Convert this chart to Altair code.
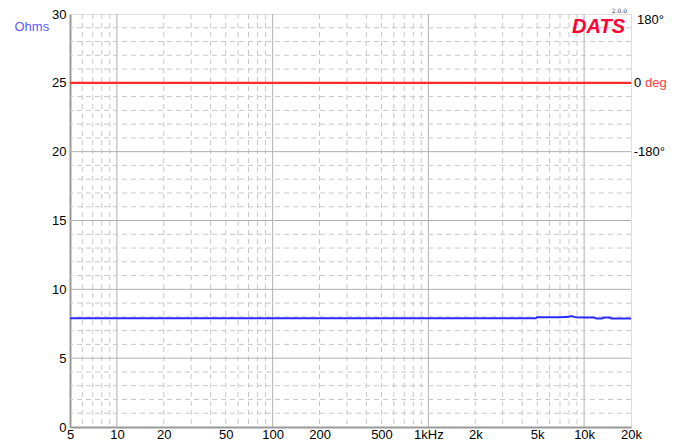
import altair as alt
import pandas as pd

# ---- data ----
imp_freq = [5, 20, 100, 500, 1000, 2000, 4900, 5000, 7000, 8000, 8300, 8600, 8900, 10000, 11500, 12000, 13000, 13400, 14500, 15000, 17000, 20000]
imp_ohms = [7.9, 7.9, 7.9, 7.9, 7.9, 7.9, 7.9, 7.97, 7.98, 8.0, 8.06, 8.0, 7.97, 7.96, 7.96, 7.88, 7.88, 7.95, 7.95, 7.88, 7.88, 7.88]
phase_freq = [5, 20000]
phase_deg = [0, 0]

x_ticks = [5, 10, 20, 50, 100, 200, 500, 1000, 2000, 5000, 10000, 20000]
x_major_grid = [10, 100, 1000, 10000]
x_minor_grid = [6, 7, 8, 9, 20, 30, 40, 50, 60, 70, 80, 90,
                200, 300, 400, 500, 600, 700, 800, 900,
                2000, 3000, 4000, 5000, 6000, 7000, 8000, 9000]
y_ticks = [0, 5, 10, 15, 20, 25, 30]
y_major_grid = [5, 10, 15, 20, 25]
y_minor_grid = [v for v in range(1, 30) if v % 5 != 0]
phase_labels = [180, 0, -180]
phase_text = ["180°", "0", "-180°"]

W, H = 561, 413
FONT = "Liberation Sans"

xscale = alt.Scale(type="log", domain=[5, 20000], nice=False)
yscale = alt.Scale(domain=[0, 30], nice=False)
pscale = alt.Scale(domain=[-900, 180], nice=False)

label_expr = ("datum.value == 1000 ? '1kHz' : datum.value == 2000 ? '2k' : "
              "datum.value == 5000 ? '5k' : datum.value == 10000 ? '10k' : "
              "datum.value == 20000 ? '20k' : datum.label")

xaxis = alt.Axis(values=x_ticks, labelExpr=label_expr, grid=False, ticks=False,
                 title=None, labelFont=FONT, labelFontSize=13, labelColor="#000",
                 labelPadding=1, domainColor="#999", domainWidth=2, labelFlush=False)
yaxis = alt.Axis(values=y_ticks, grid=False, ticks=False, title="Ohms",
                 titleAngle=0, titleX=-56, titleY=6, titleAlign="left",
                 titleBaseline="top",
                 titleColor="#5a5aff", titleFont=FONT, titleFontSize=13,
                 titleFontWeight="normal",
                 labelFont=FONT, labelFontSize=13, labelColor="#000", labelPadding=4,
                 domainColor="#999", domainWidth=2)

minor_v = alt.Chart(pd.DataFrame({"f": x_minor_grid})).mark_rule(
    color="#c8c8c8", strokeDash=[5, 4], strokeWidth=1).encode(
    x=alt.X("f:Q", scale=xscale, axis=xaxis))
major_v = alt.Chart(pd.DataFrame({"f": x_major_grid})).mark_rule(
    color="#b0b0b0", strokeWidth=1).encode(x=alt.X("f:Q", scale=xscale))
minor_h = alt.Chart(pd.DataFrame({"o": y_minor_grid})).mark_rule(
    color="#c8c8c8", strokeDash=[5, 4], strokeWidth=1).encode(
    y=alt.Y("o:Q", scale=yscale, axis=yaxis))
major_h = alt.Chart(pd.DataFrame({"o": y_major_grid})).mark_rule(
    color="#b0b0b0", strokeWidth=1).encode(y=alt.Y("o:Q", scale=yscale))

imp = alt.Chart(pd.DataFrame({"f": imp_freq, "o": imp_ohms})).mark_line(
    color="#2a2aff", strokeWidth=2).encode(
    x=alt.X("f:Q", scale=xscale), y=alt.Y("o:Q", scale=yscale))

ohm_layer = alt.layer(minor_v, major_v, minor_h, major_h, imp)

phase = alt.Chart(pd.DataFrame({"f": phase_freq, "p": phase_deg})).mark_line(
    color="#ff2a2a", strokeWidth=2.2).encode(
    x=alt.X("f:Q", scale=xscale), y=alt.Y("p:Q", scale=pscale, axis=None))

ptext_df = pd.DataFrame({"p": phase_labels, "t": phase_text})
ptext_top = alt.Chart(ptext_df).transform_filter("datum.p == 180").mark_text(
    font=FONT, fontSize=13, align="right", baseline="middle", color="#000", dy=6).encode(
    x=alt.value(W + 33), y=alt.Y("p:Q", scale=pscale, axis=None), text="t:N")
ptext_low = alt.Chart(ptext_df).transform_filter("datum.p == -180").mark_text(
    font=FONT, fontSize=13, align="right", baseline="middle", color="#000").encode(
    x=alt.value(W + 34), y=alt.Y("p:Q", scale=pscale, axis=None), text="t:N")
ptext_zero = alt.Chart(ptext_df).transform_filter("datum.p == 0").mark_text(
    font=FONT, fontSize=13, align="left", baseline="middle", color="#000").encode(
    x=alt.value(W + 3), y=alt.Y("p:Q", scale=pscale, axis=None), text="t:N")
deg_df = pd.DataFrame({"p": [0], "t": ["deg"]})
ptext_deg = alt.Chart(deg_df).mark_text(
    font=FONT, fontSize=13, align="left", baseline="middle", color="#ff4040").encode(
    x=alt.value(W + 14), y=alt.Y("p:Q", scale=pscale, axis=None), text="t:N")

logo_df = pd.DataFrame({"t": ["DATS"]})
logo = alt.Chart(logo_df).mark_text(
    font=FONT, fontSize=20, fontWeight="bold", fontStyle="italic", align="right",
    baseline="alphabetic", color="#ff0033").encode(
    x=alt.value(W - 6), y=alt.value(19), text="t:N")
ver_df = pd.DataFrame({"t": ["2.0.0"]})
ver = alt.Chart(ver_df).mark_text(
    font="DejaVu Serif", fontSize=6, align="right", baseline="alphabetic",
    color="#333").encode(x=alt.value(W - 4), y=alt.value(-1), text="t:N")

phase_layer = alt.layer(phase, ptext_top, ptext_low, ptext_zero, ptext_deg)

chart = alt.layer(ohm_layer, phase_layer, logo, ver).resolve_scale(
    y="independent").properties(
    width=W, height=H,
    autosize=alt.AutoSizeParams(type="none"),
    padding={"left": 62, "top": 6, "right": 40, "bottom": 14},
).configure_view(stroke="#999", strokeWidth=1.5).configure(background="white")

chart.save("out.html", embed_options={"renderer": "svg", "actions": False})
